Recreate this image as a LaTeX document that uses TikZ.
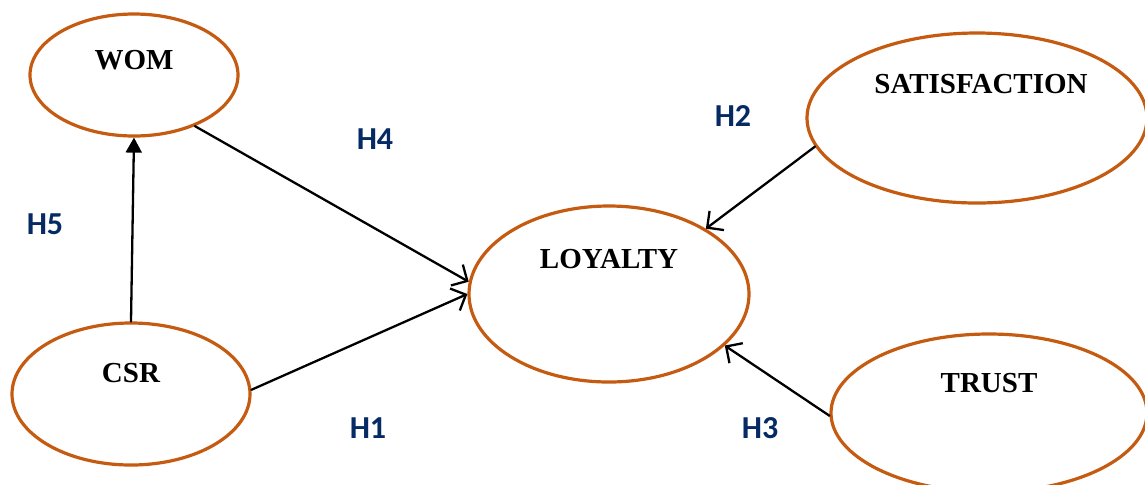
\documentclass[tikz,border=0pt]{standalone}
\usepackage{fontspec}
\setmainfont{Liberation Serif}
\newfontfamily\hypfont{Carlito}
\usepackage{tikz}
\usetikzlibrary{arrows.meta,shapes.geometric}
\definecolor{constructorange}{HTML}{C55A11}
\definecolor{hypblue}{HTML}{062A64}
\tikzset{
every picture/.style={line cap=round,line join=round},
construct node/.style={
  ellipse,
  draw=constructorange,
  line width=1.6pt,
  inner sep=0pt
},
construct text/.style={font=\fontsize{14.5}{17}\selectfont\bfseries, text=black, inner sep=0pt},
hyp label/.style={font=\hypfont\fontsize{16}{19}\selectfont\bfseries, text=hypblue, inner sep=0pt},
fig flow/.style={
  draw=black,
  -{Straight Barb[length=6pt,width=12pt]},
  line width=1.15pt
},
fig solid/.style={
  draw=black,
  -{Triangle[length=7.5pt,width=8pt]},
  line width=1.15pt
}
}
\begin{document}
\begin{tikzpicture}[x=0.5pt,y=-0.5pt]
\useasboundingbox (0,0) rectangle (1145,484);
% constructs
\node[construct node,minimum width=104pt,minimum height=61pt] (wom) at (134,75) {};
\node[construct node,minimum width=119pt,minimum height=71pt] (csr) at (131,394) {};
\node[construct node,minimum width=140pt,minimum height=88pt] (loyalty) at (609,294) {};
\node[construct node,minimum width=170pt,minimum height=85pt] (sat) at (977,118) {};
\node[construct node,minimum width=158pt,minimum height=79pt] (trust) at (989,413) {};
\node[construct text] (womtext) at (134,60) {WOM};
\node[construct text] (csrtext) at (131,373) {CSR};
\node[construct text] (loyaltytext) at (609,259) {LOYALTY};
\node[construct text] (sattext) at (981,84) {SATISFACTION};
\node[construct text] (trusttext) at (989,383) {TRUST};
% hypotheses
\node[hyp label] (h1) at (368,428) {H1};
\node[hyp label] (h2) at (733,116) {H2};
\node[hyp label] (h3) at (760,428) {H3};
\node[hyp label] (h4) at (375,139) {H4};
\node[hyp label] (h5) at (45,224) {H5};
\draw[fig solid] (csr.north) -- (wom.south);
\draw[fig flow] (wom.-40) -- (loyalty.175);
\draw[fig flow] (csr.2) -- (loyalty.180);
\draw[fig flow] (sat.190) -- (loyalty.34);
\draw[fig flow] (trust.181) -- (loyalty.-24);
\end{tikzpicture}
\end{document}
